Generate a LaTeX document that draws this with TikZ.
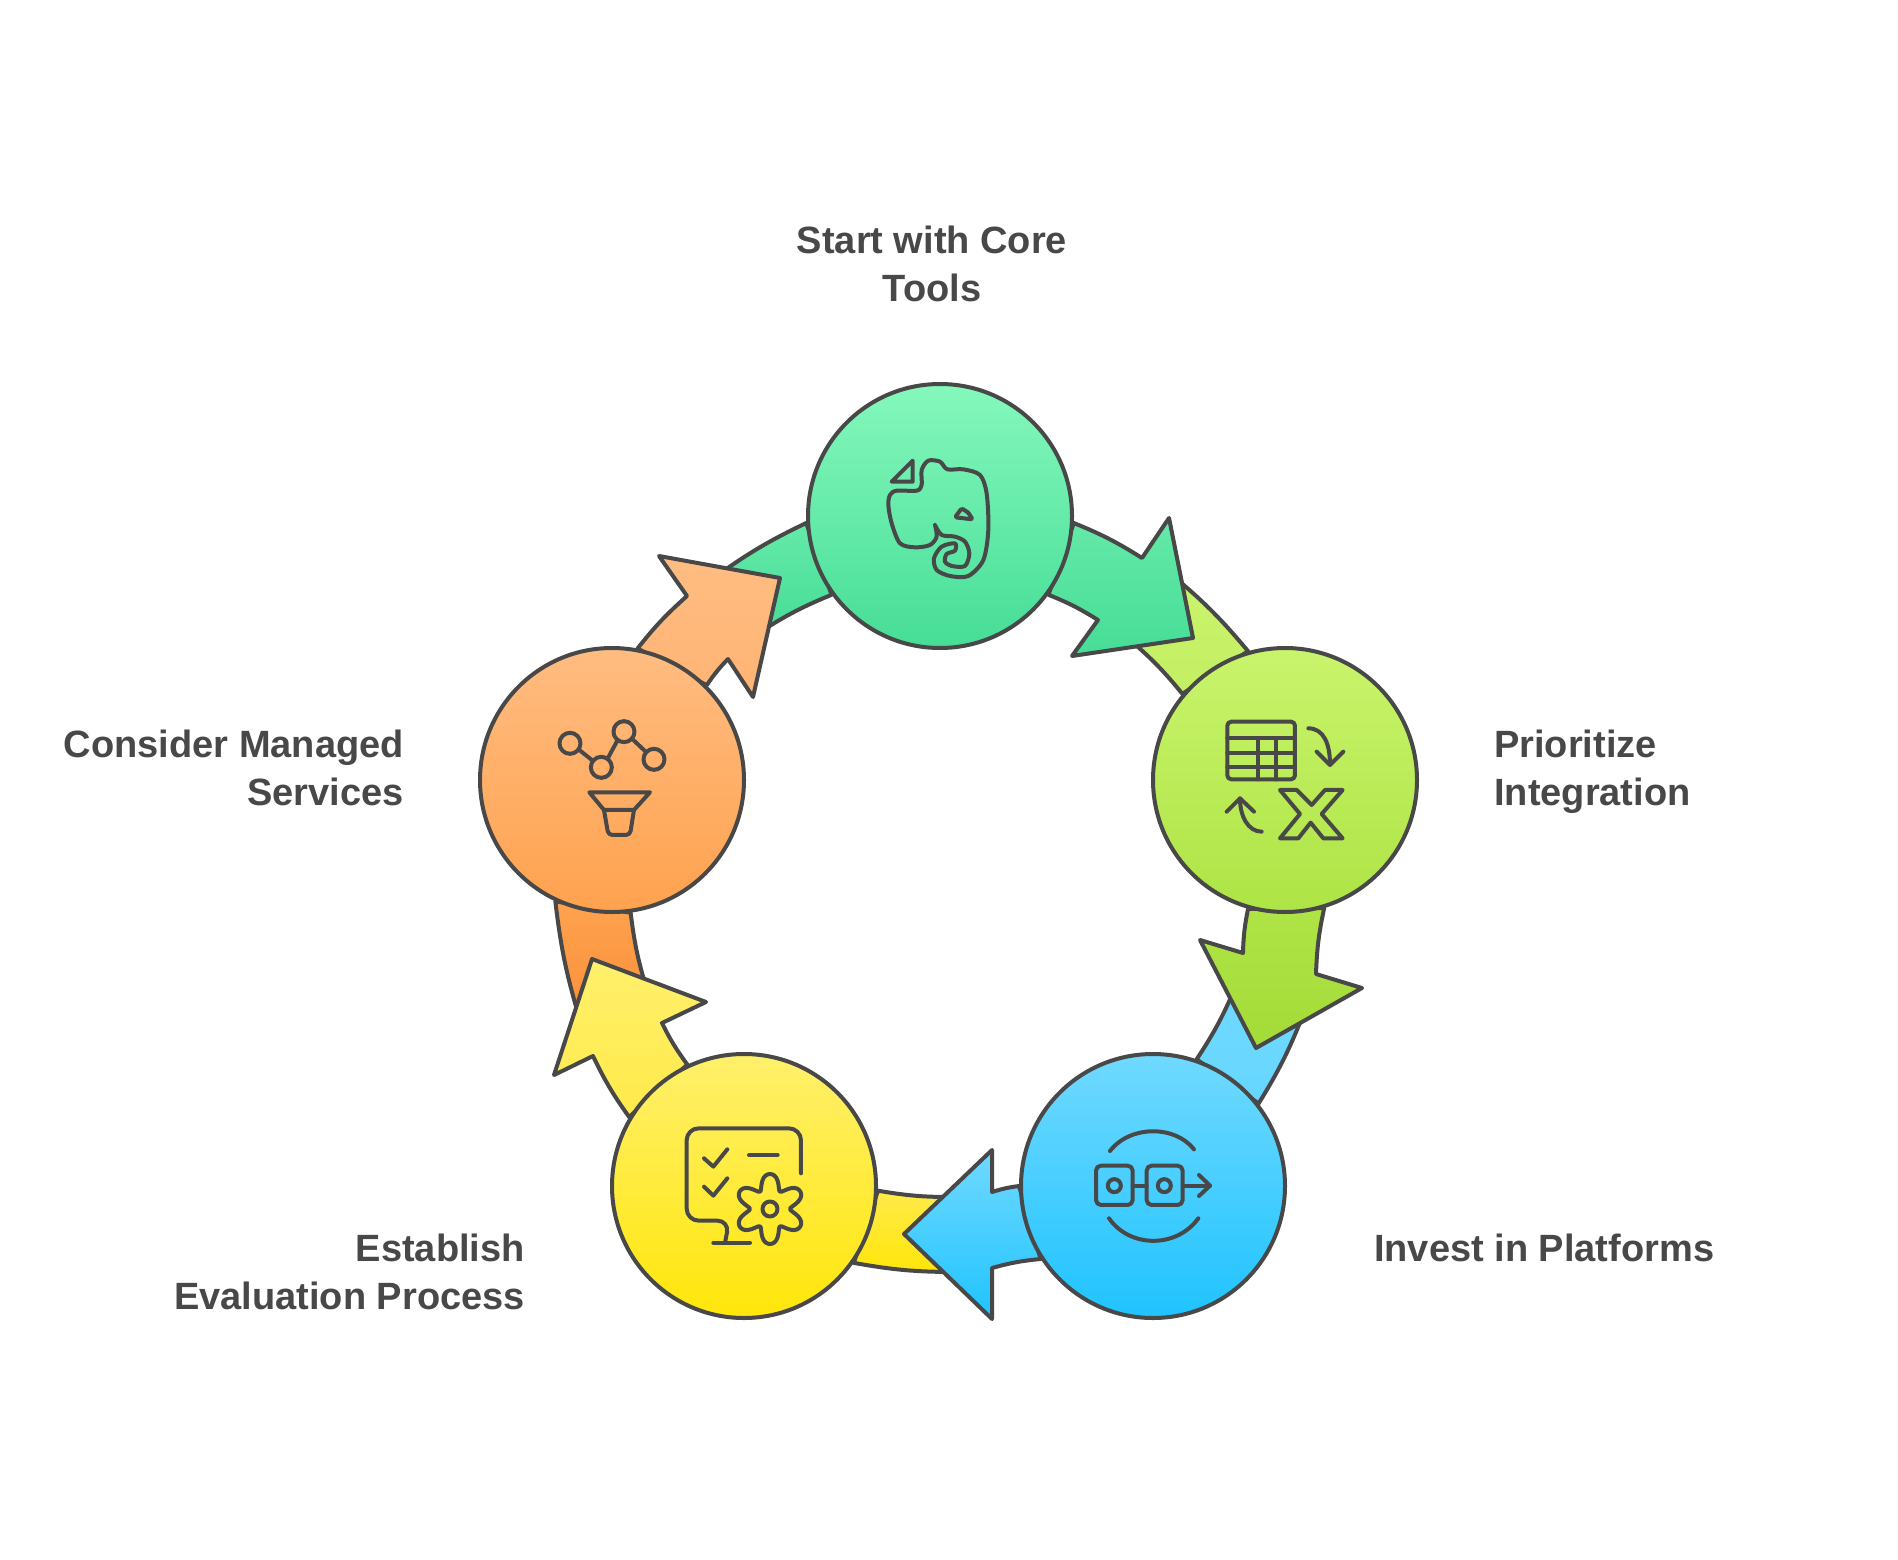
\documentclass[tikz,border=0pt]{standalone}
\usepackage{fontspec}
\setmainfont{Liberation Sans}
\usetikzlibrary{positioning,backgrounds}

\definecolor{ink}{HTML}{484848}
\definecolor{coreTop}{HTML}{85F8BC}
\definecolor{coreMid}{HTML}{65E9A9}
\definecolor{coreBot}{HTML}{46DD97}
\definecolor{integTop}{HTML}{C9F46C}
\definecolor{integMid}{HTML}{C4EF63}
\definecolor{integBot}{HTML}{AEE445}
\definecolor{integEnd}{HTML}{A5DB38}
\definecolor{platTop}{HTML}{70D9FF}
\definecolor{platMid}{HTML}{66D6FF}
\definecolor{platBot}{HTML}{1FC3FF}
\definecolor{evalTop}{HTML}{FFF06C}
\definecolor{evalMid}{HTML}{FFEA4A}
\definecolor{evalBot}{HTML}{FFE60A}
\definecolor{servTop}{HTML}{FFBC81}
\definecolor{servMid}{HTML}{FFB474}
\definecolor{servBot}{HTML}{FFA24F}
\definecolor{servEnd}{HTML}{FA8F38}

\begin{document}
\begin{tikzpicture}[x=1pt,y=-1pt,on grid,
                    main node/.style={circle,draw=ink,line width=4pt,inner sep=0pt,minimum size=264pt},
                    text node/.style={text=ink,inner sep=0pt,font=\fontsize{38}{48}\selectfont\bfseries},
                    band/.style 2 args={draw=ink,line width=4pt,line join=round,top color=#1,bottom color=#2},
                    icon/.style={draw=ink,line width=4pt,line cap=round,line join=round},
                    zoomed/.style={x=0.3333pt,y=-0.3333pt},
                    outward/.style={bend left=5},
                    inward/.style={bend right=5}]

  \useasboundingbox (0,0) rectangle (1898,1560);

  \node[main node,top color=coreTop,bottom color=coreBot] (core) at (940,516) {};
  \node[main node,top color=integTop,bottom color=integBot] (integ) [below right=264pt and 345pt of core] {};
  \node[main node,top color=platTop,bottom color=platBot] (plat) [below left=406pt and 132pt of integ] {};
  \node[main node,top color=evalTop,bottom color=evalBot] (eval) [left=409pt of plat] {};
  \node[main node,top color=servTop,bottom color=servBot] (serv) [above left=406pt and 132pt of eval] {};

  \node[text node,align=center] (corelabel) at (932,264) {Start with Core\\Tools};
  \node[text node,align=left,anchor=west] (integlabel) at (1494,772) {Prioritize\\Integration};
  \node[text node,anchor=west] (platlabel) at (1374,1248) {Invest in Platforms};
  \node[text node,align=right,anchor=east] (evallabel) at (525,1272) {Establish\\Evaluation Process};
  \node[text node,align=right,anchor=east] (servlabel) at (404,768) {Consider Managed\\Services};

  \begin{scope}[on background layer]
    % tails first, the heads lie over them
    \path[band={integTop}{integMid}] (1172,575) to[outward] (integ.106) -- (integ.140) to[inward] (1130,640) -- cycle;
    \path[band={platTop}{platMid}] (1303,1015) to[outward] (plat.38) -- (plat.71) to[inward] (1235,988) -- cycle;
    \path[band={evalMid}{evalBot}] (eval.-2) to[inward] (955,1197) -- (955,1272) to[outward] (eval.-35) -- cycle;
    \path[band={servBot}{servEnd}] (serv.245) to[inward] (580,1020) -- (647,990) to[outward] (serv.278) -- cycle;
    \path[band={coreMid}{coreBot}] (715,577) to[outward] (core.183.5) -- (core.216.8) to[inward] (760,632) -- cycle;

    \path[band={coreMid}{coreBot}] (core.-3) to[outward] (1142,558) -- (1169,518) -- (1193,638)
      -- (1072,656) -- (1098,620) to[inward] (core.-36.5) -- cycle;
    \path[band={integBot}{integEnd}] (integ.254.5) to[inward] (1243,953) -- (1200,940) -- (1256,1048)
      -- (1362,988) -- (1316,974) to[outward] (integ.287.5) -- cycle;
    \path[band={platTop}{platBot}] (plat.180) to[inward] (992,1192) -- (992,1150) -- (904,1234)
      -- (992,1319) -- (992,1268) to[outward] (plat.213) -- cycle;
    \path[band={evalTop}{evalMid}] (eval.149) to[outward] (593,1056) -- (554,1075) -- (592,959)
      -- (706,1002) -- (662,1023) to[inward] (eval.115) -- cycle;
    \path[band={servTop}{servMid}] (serv.79.7) to[outward] (687,596) -- (659,556) -- (780,578)
      -- (753,697) -- (728,659) to[inward] (serv.45.6) -- cycle;
  \end{scope}

  % elephant
  \begin{scope}[shift={(840,430)},zoomed]
    \draw[icon] (218,92) -- (155,155) -- (218,155) -- cycle;
    \draw[icon] plot[smooth,tension=0.5] coordinates {(285,285) (290,320) (270,345) (225,352) (180,340)
      (155,280) (145,225) (150,195) (170,182) (230,182) (245,165) (245,120) (265,92) (300,95) (322,118)
      (370,118) (420,135) (440,190) (445,300) (430,390) (385,438) (330,438) (290,420) (282,385) (305,350)
      (345,340) (345,362) (320,372) (315,395) (335,408) (375,408) (388,370) (375,335) (345,320) (305,315)
      (285,285)};
    \draw[icon,rounded corners=1.5pt] (345,262) -- (365,235) -- (385,248) -- (398,268) -- cycle;
  \end{scope}

  % table with x
  \begin{scope}[shift={(1140,640)},zoomed]
    \draw[icon,rounded corners=4pt] (262,245) rectangle (465,418);
    \foreach \y in {295,338,380} \draw[icon] (262,\y) -- (465,\y);
    \foreach \x in {355,408} \draw[icon] (\x,295) -- (\x,418);
    \draw[icon] (505,265) .. controls (550,265) and (570,310) .. (570,372);
    \draw[icon] (530,335) -- (570,375) -- (610,335);
    \draw[icon] (365,575) .. controls (325,575) and (300,530) .. (300,475);
    \draw[icon] (260,515) -- (300,475) -- (342,515);
    \draw[icon] (420,450) -- (470,450) -- (515,495) -- (555,450) -- (608,450) -- (545,522) -- (608,595)
      -- (550,595) -- (512,548) -- (475,595) -- (420,595) -- (480,522) -- cycle;
  \end{scope}

  % linked boxes
  \begin{scope}[shift={(1020,1050)},zoomed]
    \draw[icon,rounded corners=5pt] (228,347) rectangle (338,465);
    \draw[icon,rounded corners=5pt] (380,347) rectangle (488,465);
    \draw[icon] (283,407) circle[radius=6.5pt];
    \draw[icon] (433,407) circle[radius=6.5pt];
    \draw[icon] (338,407) -- (380,407);
    \draw[icon] (488,407) -- (570,407);
    \draw[icon] (537,375) -- (570,407) -- (537,438);
    \draw[icon] (270,303) .. controls (330,225) and (465,225) .. (522,298);
    \draw[icon] (267,505) .. controls (330,595) and (470,595) .. (535,505);
  \end{scope}

  % monitor with gear
  \begin{scope}[shift={(610,1050)},zoomed]
    \draw[icon,rounded corners=12pt] (573,370) -- (573,235) -- (230,235) -- (230,512) -- (358,512) -- (345,578);
    \draw[icon] (310,578) -- (420,578);
    \draw[icon] (282,325) -- (310,350) -- (352,298);
    \draw[icon] (282,410) -- (310,437) -- (352,385);
    \draw[icon] (417,315) -- (503,315);
    \draw[icon] (480,477) circle[radius=7.5pt];
    \draw[icon] plot[domain=0:360,samples=97,smooth] ({480+(85.3-22.5*cos(6*\x)-2.8*cos(12*\x))*cos(\x)},{477+(85.3-22.5*cos(6*\x)-2.8*cos(12*\x))*sin(\x)}) -- cycle;
  \end{scope}

  % chart over funnel
  \begin{scope}[shift={(480,640)},zoomed]
    \foreach \x/\y in {270/310,432/275,364/382,522/358} \draw[icon] (\x,\y) circle[radius=10.5pt];
    \draw[icon] (298,330) -- (338,362);
    \draw[icon] (385,352) -- (412,302);
    \draw[icon] (458,298) -- (497,335);
    \draw[icon] (328,457) -- (510,457) -- (462,510) -- (372,510) -- cycle;
    \draw[icon,rounded corners=4pt] (372,510) -- (385,585) -- (450,585) -- (462,510);
  \end{scope}
\end{tikzpicture}
\end{document}
